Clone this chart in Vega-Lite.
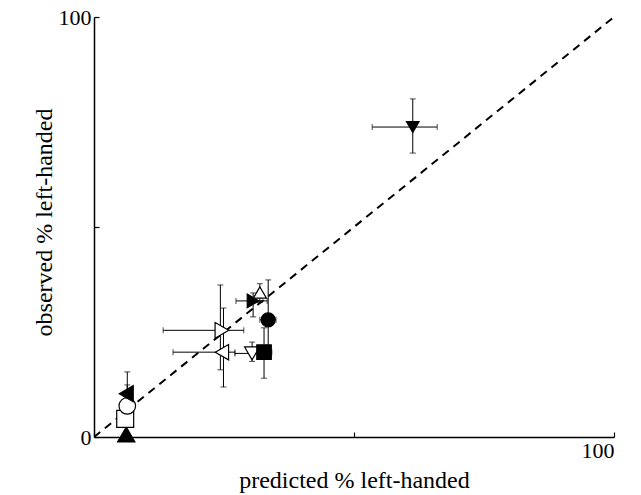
{
  "$schema": "https://vega.github.io/schema/vega-lite/v6.json",
  "width": 520,
  "height": 420,
  "autosize": {"type": "none"},
  "padding": {"left": 94, "top": 17, "right": 27, "bottom": 58},
  "datasets": {
    "points": [
      {"group": "a", "predicted": 6.2, "observed": 0.6},
      {"group": "b", "predicted": 6.0, "observed": 4.3},
      {"group": "c", "predicted": 6.4, "observed": 7.4},
      {"group": "d", "predicted": 6.2, "observed": 10.3},
      {"group": "e", "predicted": 24.6, "observed": 25.4},
      {"group": "f", "predicted": 24.6, "observed": 20.2},
      {"group": "g", "predicted": 30.4, "observed": 19.9},
      {"group": "h", "predicted": 32.7, "observed": 20.2},
      {"group": "i", "predicted": 33.5, "observed": 27.9},
      {"group": "j", "predicted": 30.6, "observed": 32.4},
      {"group": "k", "predicted": 31.9, "observed": 34.4},
      {"group": "l", "predicted": 61.3, "observed": 73.8}
    ],
    "xerr": [
      {"group": "e", "observed": 25.4, "lo": 13.3, "hi": 28.8},
      {"group": "f", "observed": 20.2, "lo": 15.2, "hi": 27.1},
      {"group": "g", "observed": 19.9, "lo": 27.1, "hi": 32.0},
      {"group": "h", "observed": 20.2, "lo": 31.5, "hi": 34.2},
      {"group": "i", "observed": 27.9, "lo": 31.9, "hi": 35.0},
      {"group": "j", "observed": 32.4, "lo": 27.3, "hi": 33.3},
      {"group": "l", "observed": 73.8, "lo": 53.5, "hi": 66.0}
    ],
    "yerr": [
      {"group": "c", "predicted": 6.4, "lo": 5.0, "hi": 12.4},
      {"group": "d", "predicted": 6.4, "lo": 8.0, "hi": 15.5},
      {"group": "e", "predicted": 24.3, "lo": 16.0, "hi": 36.2},
      {"group": "f", "predicted": 24.9, "lo": 11.9, "hi": 30.7},
      {"group": "g", "predicted": 30.4, "lo": 18.0, "hi": 22.6},
      {"group": "h", "predicted": 32.7, "lo": 14.0, "hi": 26.0},
      {"group": "i", "predicted": 33.5, "lo": 20.0, "hi": 37.4},
      {"group": "j", "predicted": 30.6, "lo": 28.6, "hi": 34.3},
      {"group": "k", "predicted": 31.9, "lo": 32.0, "hi": 36.5},
      {"group": "l", "predicted": 61.3, "lo": 67.6, "hi": 80.5}
    ],
    "identity": [
      {"predicted": 0, "observed": 0},
      {"predicted": 100, "observed": 100}
    ]
  },
  "layer": [
    {
      "data": {"name": "identity"},
      "mark": {"type": "line", "color": "black", "strokeWidth": 2, "strokeDash": [8, 6], "clip": true},
      "encoding": {
        "x": {"field": "predicted", "type": "quantitative", "title": "predicted % left-handed", "scale": {"domain": [0, 100]}},
        "y": {"field": "observed", "type": "quantitative", "title": "observed % left-handed", "scale": {"domain": [0, 100]}}
      }
    },
    {
      "data": {"name": "xerr"},
      "mark": {"type": "errorbar", "rule": {"color": "black", "strokeWidth": 1}, "ticks": {"color": "black", "size": 6, "thickness": 1}},
      "encoding": {
        "x": {"field": "lo", "type": "quantitative", "title": "predicted % left-handed"},
        "x2": {"field": "hi"},
        "y": {"field": "observed", "type": "quantitative", "title": "observed % left-handed"}
      }
    },
    {
      "data": {"name": "yerr"},
      "mark": {"type": "errorbar", "rule": {"color": "black", "strokeWidth": 1}, "ticks": {"color": "black", "size": 6, "thickness": 1}},
      "encoding": {
        "y": {"field": "lo", "type": "quantitative", "title": "observed % left-handed"},
        "y2": {"field": "hi"},
        "x": {"field": "predicted", "type": "quantitative", "title": "predicted % left-handed"}
      }
    },
    {
      "data": {"name": "points"},
      "mark": {"type": "point", "filled": true, "stroke": "black", "strokeWidth": 1.2, "opacity": 1},
      "encoding": {
        "x": {
          "field": "predicted", "type": "quantitative", "title": "predicted % left-handed",
          "axis": {"values": [0, 50, 100], "labelExpr": "datum.value == 100 ? '100' : ''", "titleX": 260, "titleY": 50, "titleBaseline": "alphabetic"}
        },
        "y": {
          "field": "observed", "type": "quantitative", "title": "observed % left-handed",
          "axis": {"values": [0, 50, 100], "labelExpr": "datum.value == 50 ? '' : datum.label", "titleX": -43, "titleY": 205, "titleBaseline": "alphabetic", "titleAngle": 270}
        },
        "shape": {
          "field": "group", "type": "nominal", "legend": null,
          "scale": {
            "domain": ["a", "b", "c", "d", "e", "f", "g", "h", "i", "j", "k", "l"],
            "range": ["triangle-up", "square", "circle", "triangle-left", "triangle-right", "triangle-left", "triangle-down", "square", "circle", "triangle-right", "triangle-up", "triangle-down"]
          }
        },
        "fill": {
          "field": "group", "type": "nominal", "legend": null,
          "scale": {
            "domain": ["a", "b", "c", "d", "e", "f", "g", "h", "i", "j", "k", "l"],
            "range": ["black", "white", "white", "black", "white", "white", "white", "black", "black", "black", "white", "black"]
          }
        },
        "size": {
          "field": "group", "type": "nominal", "legend": null,
          "scale": {
            "domain": ["a", "b", "c", "d", "e", "f", "g", "h", "i", "j", "k", "l"],
            "range": [300, 160, 200, 280, 290, 290, 240, 150, 225, 270, 260, 330]
          }
        }
      }
    }
  ],
  "config": {
    "view": {"stroke": null},
    "font": "Liberation Serif",
    "axis": {
      "grid": false,
      "domainColor": "black",
      "domainWidth": 1.5,
      "tickColor": "black",
      "tickWidth": 1.2,
      "tickSize": -5,
      "labelFont": "Liberation Serif",
      "labelFontSize": 22,
      "labelColor": "black",
      "labelPadding": 8,
      "titleFont": "Liberation Serif",
      "titleFontSize": 24,
      "titleFontWeight": "normal",
      "titleColor": "black"
    }
  }
}
